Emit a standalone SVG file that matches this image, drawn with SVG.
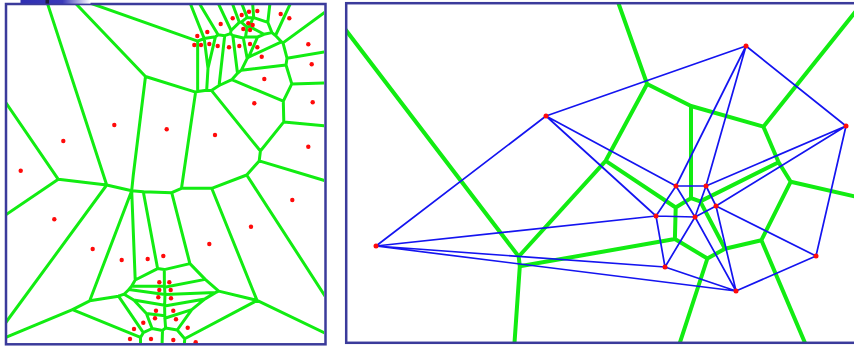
<svg xmlns="http://www.w3.org/2000/svg" width="854" height="346" viewBox="0 0 854 346">
<style>
.vl{fill:none;stroke:#12ec12;stroke-width:3;stroke-linejoin:round;stroke-linecap:round}
.vr{fill:none;stroke:#12ec12;stroke-width:4;stroke-linejoin:round;stroke-linecap:round}
.dl{fill:none;stroke:#1414f0;stroke-width:1.7;stroke-linecap:round}
.site{fill:#ff0a0a}
.frame{fill:none;stroke:#3b3b9b;stroke-width:2.5}
</style>
<defs>
<clipPath id="clipL"><rect x="7" y="5" width="317" height="338"/></clipPath>
<clipPath id="clipR"><rect x="347" y="4" width="507" height="338"/></clipPath>
<linearGradient id="bar" x1="0" y1="0" x2="1" y2="0">
<stop offset="0" stop-color="#2f2fb2"/><stop offset="0.6" stop-color="#3a3ab8"/><stop offset="1" stop-color="#ffffff"/>
</linearGradient>
</defs>
<rect width="854" height="346" fill="#ffffff"/>

<g id="left-panel">
<g id="left-voronoi" clip-path="url(#clipL)">
<path class="vl" d="M47,2 L106.7,185 M74.3,2 L145.5,76.5 M87,2 L197.65,41.1
M145.5,76.5 L195.6,92.1 L197.65,91.6 L206.7,90.2 L211.4,90.4 L219.1,85.5 L231.8,79.7 L237.5,73.3 L241.4,70.2 L286,65 L287,58.2 L283,42.9 L281.4,41.8 L275.5,35.5 L271.9,32.6 L264,34.3 L257.6,37 L245.5,37 L243.3,38 L232.8,35.5 L230.4,33.6 L224.7,35.7 L218.1,34.85 L215.4,36.8 L204.2,38.5 L197.65,41.1 L197.65,91.6
M145.5,76.5 L133.3,175 L131.7,190.7
M181.5,188.3 L195.6,92.1
M204.2,38.5 L189.7,2 M218.1,34.85 L198.5,2 M230.4,33.6 L231.1,30.5 L217.6,2 M231.1,30.5 L239.3,22.35 L231.8,2
M239.3,22.35 L241.2,22.15 L247,27.2 L245.5,37 M247,27.2 L249.6,26.5 L264,34.3 M249.6,26.5 L253,17.8
M241.2,22.15 L247.2,17.4 L241.1,2 M247.2,17.4 L253,17.8 L253.7,17.6 L252.5,2 M253.7,17.6 L267.8,22.3 L271.9,32.6 M267.8,22.3 L270.1,2 M275.5,35.5 L291.1,2
M204.2,38.5 L208,68.2 L206.7,90.2 M215.4,36.8 L208,68.2 M224.7,35.7 L219.1,85.5 M232.8,35.5 L237.5,73.3
M243.3,38 L247.2,58.4 L248.6,57.1 L257.6,37 M247.2,58.4 L241.4,70.2 M248.6,57.1 L281.4,41.8
M211.4,90.4 L260.4,151 L283.8,121.9 L326,126 M283.8,121.9 L283.3,101.2 L231.8,79.7 M283.3,101.2 L291.8,83.9 L326,83 M291.8,83.9 L286,65
M287,58.2 L326,51.6 M283,42.9 L326,11.5
M4,100 L58.3,179.3 L4,216 M58.3,179.3 L106.7,185 L131.7,190.7 L143.3,191.7 L171.7,192.7 L181.5,188.3 L211.7,188.3 L246.7,175 L259.2,160.9 L260.4,151 M259.2,160.9 L326,181
M106.7,185 L4,325
M246.7,175 L326,297.5 M211.7,188.3 L257,300.4 L326,333.5
M131.7,190.7 L135.2,280 M143.3,191.7 L157.6,268.6 M171.7,192.7 L189.9,263.6
M131.7,190.7 L89.7,300.8 L72.5,309.6 L4,338
M89.7,300.8 L118.5,296.2 L124.1,294.2 L128.9,289.5 L131.6,286.15 L135.2,280 L157.6,268.6 L164.3,269.6 L189.9,263.6 L205.2,279.4 L218.7,291.1 L215.4,292.6 L205,298.9 L191.8,309.6 L177.2,330 L184.7,338.8 L257,300.4
M218.7,291.1 L257,300.4
M124.1,294.2 L133.8,300 L146.4,313.5 L152.1,328.5 L162.5,330.4 L165.6,328 L177.2,330
M118.5,296.2 L143.3,332.7 L152.1,328.5 M143.3,332.7 L140.5,337.4 L140.5,347 M72.5,309.6 L140.5,337.4
M162.5,330.4 L162,347 M184.7,338.8 L184.2,347
M164.3,269.6 L164.4,286.2 L165,294.4 L164.6,305.5 L164.8,317 L165.6,328
M131.6,286.15 L164.4,286.2 M164.4,287.2 L205.2,279.4
M128.9,289.5 L165,294.4 L215.4,292.6
M133.8,300 L164.6,305.3 M164.6,306 L205,298.9
M146.4,313.5 L164.8,315.7 M164.8,318.2 L191.8,309.6"/>
</g>
<g id="left-sites" class="site">
<circle cx="257.3" cy="11" r="2.2"/><circle cx="249" cy="11.7" r="2.2"/><circle cx="241.7" cy="15" r="2.2"/><circle cx="232.7" cy="18.3" r="2.2"/><circle cx="220.7" cy="24" r="2.2"/><circle cx="207.3" cy="32" r="2.2"/><circle cx="197.3" cy="36" r="2.2"/><circle cx="280.7" cy="14" r="2.2"/><circle cx="289.3" cy="18.3" r="2.2"/><circle cx="248.3" cy="23.3" r="2.2"/><circle cx="252.7" cy="25" r="2.2"/><circle cx="243.3" cy="29" r="2.2"/><circle cx="250" cy="30" r="2.2"/>
<circle cx="194.3" cy="45" r="2.2"/><circle cx="201" cy="45" r="2.2"/><circle cx="209.3" cy="44" r="2.2"/><circle cx="217.7" cy="46" r="2.2"/><circle cx="229" cy="47.3" r="2.2"/><circle cx="239.3" cy="46" r="2.2"/><circle cx="250" cy="44" r="2.2"/><circle cx="257.3" cy="47.3" r="2.2"/><circle cx="261.7" cy="56.7" r="2.2"/>
<circle cx="264.3" cy="79" r="2.2"/><circle cx="308.3" cy="44.3" r="2.2"/><circle cx="311.7" cy="64.3" r="2.2"/><circle cx="254.3" cy="103.3" r="2.2"/><circle cx="312.7" cy="102.3" r="2.2"/><circle cx="215" cy="135" r="2.2"/><circle cx="308.3" cy="146.7" r="2.2"/><circle cx="166.7" cy="129.3" r="2.2"/><circle cx="114.3" cy="125" r="2.2"/><circle cx="63.3" cy="141" r="2.2"/><circle cx="20.7" cy="170.7" r="2.2"/><circle cx="54.3" cy="219.3" r="2.2"/><circle cx="92.7" cy="249" r="2.2"/><circle cx="292.3" cy="200" r="2.2"/><circle cx="251" cy="226.7" r="2.2"/><circle cx="209.3" cy="244" r="2.2"/><circle cx="121.7" cy="260" r="2.2"/><circle cx="147.7" cy="259" r="2.2"/><circle cx="163.3" cy="256" r="2.2"/>
<circle cx="159.3" cy="282.3" r="2.2"/><circle cx="169.3" cy="282.3" r="2.2"/><circle cx="159.3" cy="290" r="2.2"/><circle cx="170.7" cy="290" r="2.2"/><circle cx="158.3" cy="297.3" r="2.2"/><circle cx="171" cy="298.3" r="2.2"/><circle cx="156" cy="310.7" r="2.2"/><circle cx="173.3" cy="310.7" r="2.2"/><circle cx="155" cy="318.3" r="2.2"/><circle cx="176" cy="319.3" r="2.2"/><circle cx="143.3" cy="322.7" r="2.2"/><circle cx="134" cy="329" r="2.2"/><circle cx="187.7" cy="327.7" r="2.2"/><circle cx="130" cy="339" r="2.2"/><circle cx="151" cy="339" r="2.2"/><circle cx="173.3" cy="340" r="2.2"/><circle cx="195.7" cy="342.3" r="2.2"/>
</g>
<rect class="frame" x="6" y="4" width="319.5" height="340.3"/>
<rect x="20.5" y="0" width="70" height="3.6" fill="url(#bar)"/>
<rect x="45.5" y="0" width="3.5" height="3.6" fill="#1c1c3c"/>
</g>

<g id="right-panel">
<g id="connectors">
<g id="voronoi-edges" clip-path="url(#clipR)">
<path class="vr" d="M617.3,0 L647.1,84 L605.7,160.8 L518.7,256.5 L345,29
M518.7,256.5 L519.8,266.3 L514,350
M647.1,84 L691,106 L763.4,126.7 L858,8.5
M763.4,126.7 L778.6,162.2 L790.7,181.7 L858,197.2
M691,106 L691,198.1
M605.7,160.8 L675.7,207.5 L691,198.1 L700.2,201.4 L778.6,162.2
M675.7,207.5 L674.9,239 L519.8,266.3
M674.9,239 L707.4,258.5 L677.5,350
M707.4,258.5 L725,248.7 L700.2,201.4
M725,248.7 L761.4,240.2 L790.7,181.7
M761.4,240.2 L808,350"/>
</g>
<g id="delaunay-edges">
<path class="dl" d="M546,116 L746,46 M546,116 L376,246 M546,116 L676,186 M546,116 L656,216
M746,46 L846,126 M746,46 L676,186 M746,46 L706,186
M846,126 L706,186 M846,126 L716,206 M846,126 L816,256
M376,246 L656,216 M376,246 L665,267 M376,246 L736,291
M676,186 L706,186 M676,186 L656,216 M676,186 L695,217
M706,186 L695,217 M706,186 L716,206 M716,206 L695,217 M716,206 L736,291 M716,206 L816,256
M656,216 L695,217 M656,216 L665,267 M695,217 L665,267 M695,217 L736,291
M665,267 L736,291 M736,291 L816,256"/>
</g>
</g>
<g id="node-A" class="site"><circle cx="546" cy="116" r="2.5"/></g>
<g id="node-B" class="site"><circle cx="746" cy="46" r="2.5"/></g>
<g id="node-C" class="site"><circle cx="846" cy="126" r="2.5"/></g>
<g id="node-D" class="site"><circle cx="376" cy="246" r="2.5"/></g>
<g id="node-E" class="site"><circle cx="676" cy="186" r="2.5"/></g>
<g id="node-F" class="site"><circle cx="706" cy="186" r="2.5"/></g>
<g id="node-G" class="site"><circle cx="716" cy="206" r="2.5"/></g>
<g id="node-H" class="site"><circle cx="656" cy="216" r="2.5"/></g>
<g id="node-I" class="site"><circle cx="695" cy="217" r="2.5"/></g>
<g id="node-J" class="site"><circle cx="665" cy="267" r="2.5"/></g>
<g id="node-K" class="site"><circle cx="736" cy="291" r="2.5"/></g>
<g id="node-L" class="site"><circle cx="816" cy="256" r="2.5"/></g>
<rect class="frame" x="346.2" y="3.2" width="520" height="339.6"/>
</g>
</svg>
